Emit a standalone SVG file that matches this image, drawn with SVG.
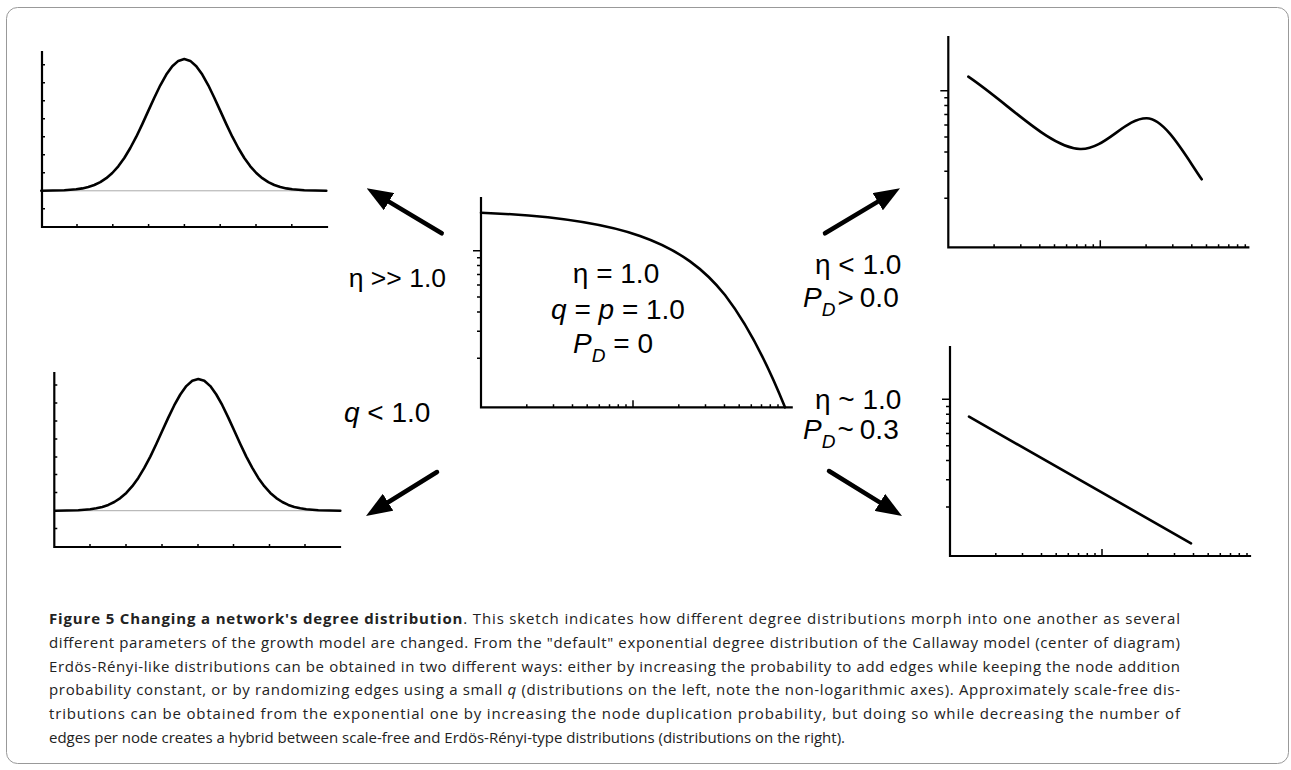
<svg xmlns="http://www.w3.org/2000/svg" xmlns:xlink="http://www.w3.org/1999/xlink" width="1291" height="770" viewBox="0 0 1291 770">
<style>
.axis{fill:none;stroke:#000;stroke-width:2.2;stroke-linecap:square}
.tick{fill:none;stroke:#000;stroke-width:1.5}
.curve{fill:none;stroke:#000;stroke-width:2.6;stroke-linejoin:round;stroke-linecap:round}
.base{fill:none;stroke:#aaa;stroke-width:1}
.shaft{fill:none;stroke:#000;stroke-width:4.5;stroke-linecap:round}
.lbl{font-family:"Liberation Sans",Arial,Helvetica,sans-serif;font-size:28px;fill:#000}
.it{font-style:italic}
.sub{font-size:19px}
.cap{font-family:"Open Sans","Noto Sans",sans-serif;font-size:15px;fill:#222}
</style>
<defs>
<marker id="ah" viewBox="0 0 26 20" refX="8" refY="10" markerWidth="26" markerHeight="20" markerUnits="userSpaceOnUse" orient="auto">
<path d="M0,0 L26,10 L0,20 z" fill="#000"/>
</marker>
<path id="gauss" d="M-143,0 L-120,-0.5 L-108,-1.5 L-102,-2.4 L-96,-3.8 L-90,-5.8 L-84,-8.7 L-78,-12.6 L-72,-17.8 L-66,-24.5 L-60,-32.8 L-54,-42.8 L-48,-54.1 L-42,-66.7 L-36,-79.9 L-30,-93.1 L-24,-105.5 L-18,-116.2 L-12,-124.6 L-6,-129.9 L0,-131.7 L6,-129.9 L12,-124.6 L18,-116.2 L24,-105.5 L30,-93.1 L36,-79.9 L42,-66.7 L48,-54.1 L54,-42.8 L60,-32.8 L66,-24.5 L72,-17.8 L78,-12.6 L84,-8.7 L90,-5.8 L96,-3.8 L102,-2.4 L108,-1.5 L120,-0.5 L142,0"/>
</defs>

<rect id="frame" x="6.5" y="7.5" width="1282" height="756" rx="11" ry="11" fill="none" stroke="#999" stroke-width="1"/>

<g id="plot-top-left">
<path class="base" d="M42,190.8 H327"/>
<path class="tick" d="M42,64.8h3M42,82.8h3M42,100.8h3M42,118.8h3M42,136.8h3M42,154.8h3M42,172.8h3M42,208.8h3M77,227v-3M112.8,227v-3M148.6,227v-3M184.4,227v-3M220.2,227v-3M256,227v-3M291.8,227v-3"/>
<path class="axis" d="M42,52 V227 H327"/>
<use xlink:href="#gauss" href="#gauss" class="curve" transform="translate(184.3,190.8)"/>
</g>

<g id="plot-bottom-left">
<path class="base" d="M54.3,510.7 H340"/>
<path class="tick" d="M54.3,385h3M54.3,403h3M54.3,421h3M54.3,439h3M54.3,457h3M54.3,474.5h3M54.3,492.5h3M54.3,528.5h3M90,547v-3M126,547v-3M162,547v-3M198,547v-3M233.5,547v-3M269.5,547v-3M305,547v-3"/>
<path class="axis" d="M54.3,373 V547 H340"/>
<use xlink:href="#gauss" href="#gauss" class="curve" transform="translate(198.3,510.7)"/>
</g>

<g id="plot-center">
<path class="tick" d="M481,250.7h-8M481,257.8h-4M481,265.6h-4M481,274.6h-4M481,284.9h-4M481,297.1h-4M481,312h-4M481,331.2h-4M481,358.3h-4M633,407.3v-7M526.8,407.3v-3M553.5,407.3v-3M572.5,407.3v-3M587.2,407.3v-3M599.3,407.3v-3M609.5,407.3v-3M618.3,407.3v-3M626,407.3v-3M678.8,407.3v-3M705.5,407.3v-3M724.5,407.3v-3M739.2,407.3v-3M751.3,407.3v-3M761.5,407.3v-3M770.3,407.3v-3M778,407.3v-3"/>
<path class="axis" d="M481,198 V407.3 H791.7"/>
<path class="curve" d="M481,212.7 C540,215 600,222 640,236 C680,250 705,270 725,295 C748,325 770,370 785,407.3"/>
<text class="lbl" x="616" y="283" text-anchor="middle">η = 1.0</text>
<text class="lbl" x="618" y="319" text-anchor="middle"><tspan class="it">q</tspan> = <tspan class="it">p</tspan> = 1.0</text>
<text class="lbl" x="613" y="353" text-anchor="middle"><tspan class="it">P</tspan><tspan class="it sub" dy="9">D</tspan><tspan dy="-9"> = 0</tspan></text>
</g>

<g id="plot-top-right">
<path class="tick" d="M948.3,90.7h-8M948.3,97.8h-4M948.3,105.6h-4M948.3,114.6h-4M948.3,124.9h-4M948.3,137.1h-4M948.3,152h-4M948.3,171.2h-4M948.3,198.3h-4M1100.3,247.3v-7M994.1,247.3v-3M1020.8,247.3v-3M1039.8,247.3v-3M1054.5,247.3v-3M1066.6,247.3v-3M1076.8,247.3v-3M1085.6,247.3v-3M1093.3,247.3v-3M1146.1,247.3v-3M1172.8,247.3v-3M1191.8,247.3v-3M1206.5,247.3v-3M1218.6,247.3v-3M1228.8,247.3v-3M1237.6,247.3v-3M1245.3,247.3v-3"/>
<path class="axis" d="M948.3,37 V247.3 H1248.3"/>
<path class="curve" d="M968.3,76.7 C1010,105 1050,148 1080,149 C1105,150 1125,118 1146.7,118.3 C1165,118.5 1185,155 1201.7,179.3"/>
</g>

<g id="plot-bottom-right">
<path class="tick" d="M950,399.3h-8M950,406.4h-4M950,414.2h-4M950,423.2h-4M950,433.5h-4M950,445.7h-4M950,460.6h-4M950,479.8h-4M950,506.9h-4M1102,556v-7M995.8,556v-3M1022.5,556v-3M1041.5,556v-3M1056.2,556v-3M1068.3,556v-3M1078.5,556v-3M1087.3,556v-3M1095,556v-3M1147.8,556v-3M1174.5,556v-3M1193.5,556v-3M1208.2,556v-3M1220.3,556v-3M1230.5,556v-3M1239.3,556v-3M1247,556v-3"/>
<path class="axis" d="M950,347 V556 H1250"/>
<path class="curve" d="M969,416.7 L1191,543.3"/>
</g>

<g id="connectors">
<path class="shaft" d="M441.7,233.3 L382.1,197.6" marker-end="url(#ah)"/>
<path class="shaft" d="M825,233.3 L884.6,197.6" marker-end="url(#ah)"/>
<path class="shaft" d="M437,472 L381.3,506.5" marker-end="url(#ah)"/>
<path class="shaft" d="M829,471 L886.7,506.6" marker-end="url(#ah)"/>
</g>

<g id="labels">
<text class="lbl" x="446" y="287" text-anchor="end" style="font-size:26.5px">η &gt;&gt; 1.0</text>
<text class="lbl" x="344" y="422"><tspan class="it">q</tspan> &lt; 1.0</text>
<text class="lbl" x="815" y="274">η &lt; 1.0</text>
<text class="lbl" x="803" y="307"><tspan class="it">P</tspan><tspan class="it sub" dy="9">D</tspan><tspan dy="-9" dx="2">&gt;</tspan><tspan dx="6">0.0</tspan></text>
<text class="lbl" x="815" y="409">η ~ 1.0</text>
<text class="lbl" x="803" y="439"><tspan class="it">P</tspan><tspan class="it sub" dy="9">D</tspan><tspan dy="-9" dx="2">~</tspan><tspan dx="6">0.3</tspan></text>
</g>

<g id="caption">
<text class="cap" x="49" y="624" textLength="1131" lengthAdjust="spacing"><tspan font-weight="bold">Figure 5 Changing a network's degree distribution</tspan>. This sketch indicates how different degree distributions morph into one another as several</text>
<text class="cap" x="49" y="647.8" textLength="1131" lengthAdjust="spacing">different parameters of the growth model are changed. From the "default" exponential degree distribution of the Callaway model (center of diagram)</text>
<text class="cap" x="49" y="671.6" textLength="1131" lengthAdjust="spacing">Erdös-Rényi-like distributions can be obtained in two different ways: either by increasing the probability to add edges while keeping the node addition</text>
<text class="cap" x="49" y="695.4" textLength="1131" lengthAdjust="spacing">probability constant, or by randomizing edges using a small <tspan font-style="italic">q</tspan> (distributions on the left, note the non-logarithmic axes). Approximately scale-free dis-</text>
<text class="cap" x="49" y="719.2" textLength="1131" lengthAdjust="spacing">tributions can be obtained from the exponential one by increasing the node duplication probability, but doing so while decreasing the number of</text>
<text class="cap" x="49" y="743">edges per node creates a hybrid between scale-free and Erdös-Rényi-type distributions (distributions on the right).</text>
</g>
</svg>
